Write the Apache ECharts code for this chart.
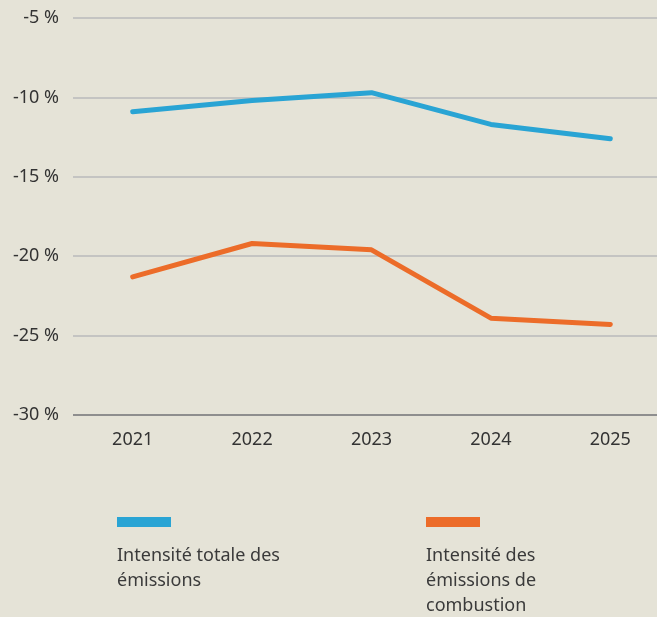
<!DOCTYPE html>
<html>
<head>
<meta charset="utf-8">
<script src="https://cdn.jsdelivr.net/npm/echarts@6/dist/echarts.min.js"></script>
<style>
  html, body { margin: 0; padding: 0; background: #e5e3d7; overflow: hidden; }
  #chart { width: 670px; height: 617px; }
</style>
</head>
<body>
<div id="chart"></div>
<script>
// données
const years = ["2021", "2022", "2023", "2024", "2025"];
const totalIntensity = [-10.9, -10.2, -9.7, -11.7, -12.6];
const combustionIntensity = [-21.3, -19.2, -19.6, -23.9, -24.3];
const seriesNames = ["Intensité totale des\némissions", "Intensité des\némissions de\ncombustion"];
const colors = ["#29a4d4", "#ec6c29"];

// le conteneur déborde un peu à droite : la grille continue hors du cadre
const chart = echarts.init(document.getElementById("chart"));

const font = "'Noto Sans', sans-serif";

// légende dessinée à la main : barre au-dessus du texte
const legendX = [117, 426];
const legendItems = [];
seriesNames.forEach((name, i) => {
  legendItems.push({
    type: "rect",
    left: legendX[i], top: 517,
    shape: { width: 54, height: 10 },
    style: { fill: colors[i] }
  });
  legendItems.push({
    type: "text",
    left: legendX[i], top: 543,
    style: {
      text: name,
      fill: "#3a3a3a",
      font: "18px " + font,
      lineHeight: 25
    }
  });
});

const option = {
  backgroundColor: "#e5e3d7",
  textStyle: { fontFamily: font },
  grid: { left: 73, top: 18, right: 0, bottom: 202, containLabel: false },
  xAxis: {
    type: "category",
    data: years,
    boundaryGap: true,
    axisTick: { show: false },
    axisLine: { show: false },
    axisLabel: { color: "#333", fontSize: 18, margin: 16 }
  },
  yAxis: {
    type: "value",
    min: -30,
    max: -5,
    interval: 5,
    axisLine: { show: false },
    axisTick: { show: false },
    axisLabel: {
      color: "#333",
      fontSize: 18,
      margin: 14,
      formatter: "{value} %"
    },
    splitLine: {
      lineStyle: {
        color: ["#8e8e8e", "#c4c4c2", "#c4c4c2", "#c4c4c2", "#c4c4c2", "#c4c4c2"],
        width: 2
      }
    }
  },
  series: [
    {
      name: seriesNames[0],
      type: "line",
      data: totalIntensity,
      symbol: "none",
      lineStyle: { color: colors[0], width: 5, cap: "round" },
      itemStyle: { color: colors[0] }
    },
    {
      name: seriesNames[1],
      type: "line",
      data: combustionIntensity,
      symbol: "none",
      lineStyle: { color: colors[1], width: 5, cap: "round" },
      itemStyle: { color: colors[1] }
    }
  ],
  graphic: legendItems
};

option && chart.setOption(option);
</script>
</body>
</html>
